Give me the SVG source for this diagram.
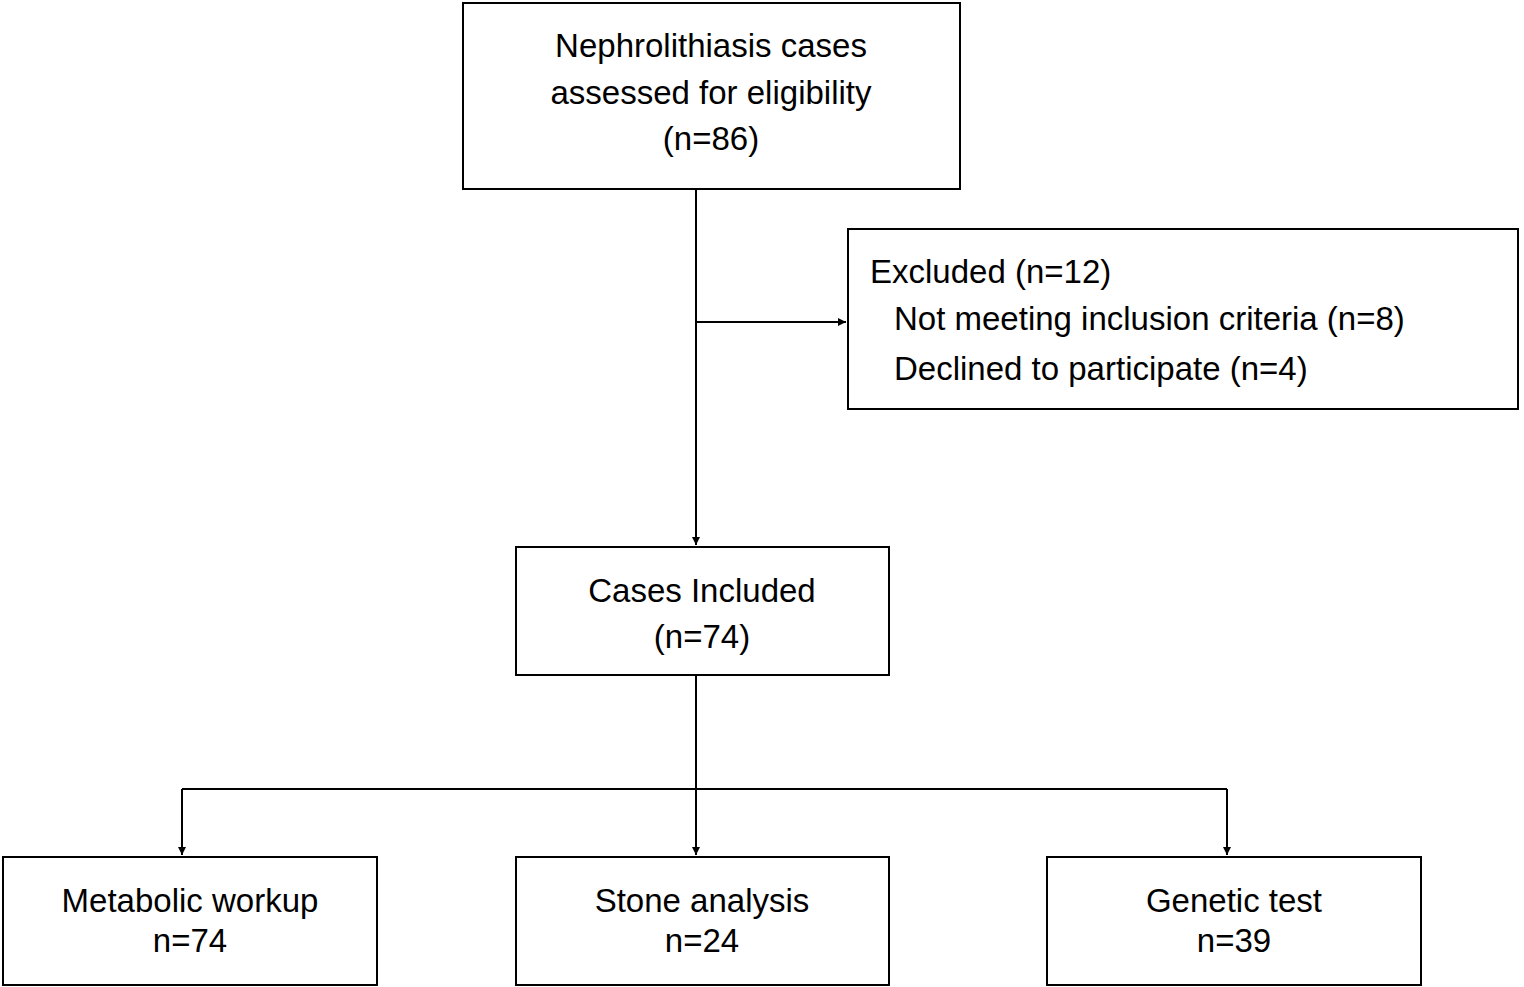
<svg xmlns="http://www.w3.org/2000/svg" width="1524" height="987" viewBox="0 0 1524 987">
<style>
rect{fill:#fff;stroke:#000;stroke-width:2}
text{font-family:"Liberation Sans",Arial,sans-serif;font-size:33px;fill:#000}
.c{text-anchor:middle}
line{stroke:#000;stroke-width:2}
</style>
<defs><marker id="a" viewBox="0 0 10 10" refX="10" refY="5" markerWidth="8" markerHeight="8" markerUnits="userSpaceOnUse" orient="auto"><path d="M0,0L10,5L0,10z" fill="#000"/></marker></defs>
<rect width="1524" height="987" style="stroke:none"/>
<g id="n1"><rect x="463" y="3" width="497" height="186"/>
<text class="c" x="711" y="57">Nephrolithiasis cases</text><text class="c" x="711" y="104">assessed for eligibility</text><text class="c" x="711" y="150">(n=86)</text></g>
<g id="n2"><rect x="848" y="229" width="670" height="180"/>
<text x="870" y="283">Excluded (n=12)</text><text x="894" y="330">Not meeting inclusion criteria (n=8)</text><text x="894" y="380">Declined to participate (n=4)</text></g>
<g id="n3"><rect x="516" y="547" width="373" height="128"/>
<text class="c" x="702" y="602">Cases Included</text><text class="c" x="702" y="648">(n=74)</text></g>
<g id="n4"><rect x="3" y="857" width="374" height="128"/>
<text class="c" x="190" y="912">Metabolic workup</text><text class="c" x="190" y="952">n=74</text></g>
<g id="n5"><rect x="516" y="857" width="373" height="128"/>
<text class="c" x="702" y="912">Stone analysis</text><text class="c" x="702" y="952">n=24</text></g>
<g id="n6"><rect x="1047" y="857" width="374" height="128"/>
<text class="c" x="1234" y="912">Genetic test</text><text class="c" x="1234" y="952">n=39</text></g>
<g id="connectors">
<line x1="696" y1="189" x2="696" y2="545" marker-end="url(#a)"/>
<line x1="696" y1="322" x2="846" y2="322" marker-end="url(#a)"/>
<line x1="696" y1="675" x2="696" y2="855" marker-end="url(#a)"/>
<line x1="182" y1="789" x2="1227" y2="789"/>
<line x1="182" y1="789" x2="182" y2="855" marker-end="url(#a)"/>
<line x1="1227" y1="789" x2="1227" y2="855" marker-end="url(#a)"/>
</g>
</svg>
